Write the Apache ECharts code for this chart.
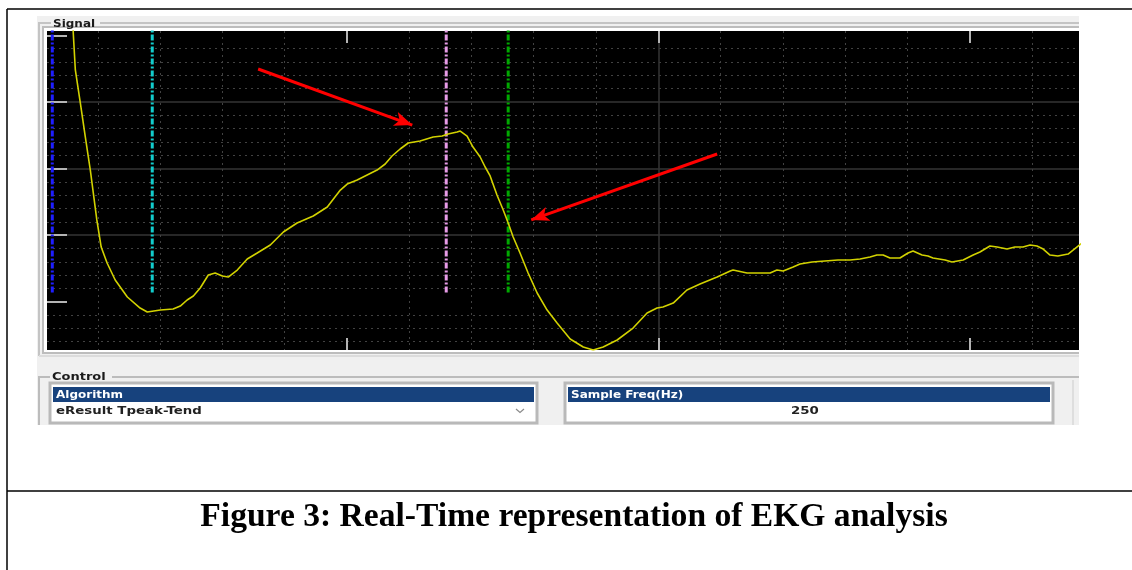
<!DOCTYPE html>
<html>
<head>
<meta charset="utf-8">
<script src="https://cdn.jsdelivr.net/npm/echarts@6/dist/echarts.min.js"></script>
<style>
  html, body { margin: 0; padding: 0; background: #fff; }
  #chart { width: 1132px; height: 570px; }
</style>
</head>
<body>
<div id="chart"></div>
<script>
// Signal trace: time (axis units, 100 per major division) and amplitude (100 per major division)
const sampleTime = [
  11.8, 12.1, 12.8, 14.4, 16.0, 17.6, 19.7, 21.1, 23.0, 25.6, 29.5, 33.6, 35.9, 40.1, 44.2, 46.5,
  48.7, 50.7, 52.9, 55.5, 57.7, 60.0, 61.9, 64.8, 68.0, 71.2, 75.4, 79.6, 84.0, 89.2, 93.7, 97.9,
  100.1, 103.3, 106.5, 109.7, 112.3, 114.5, 117.1, 119.7, 123.5, 127.7, 130.6, 132.5, 135.4, 136.4,
  138.6, 140.5, 142.8, 144.4, 146.0, 148.2, 150.2, 151.8, 153.4, 155.6, 158.2, 161.1, 164.3, 167.5,
  171.7, 175.9, 179.1, 182.3, 186.8, 191.9, 196.4, 199.6, 201.5, 204.8, 209.2, 213.4, 218.9, 223.1,
  224.0, 228.5, 233.6, 235.9, 238.1, 240.1, 243.3, 245.5, 249.4, 253.5, 257.7, 261.6, 264.8, 268.0,
  270.2, 272.2, 274.4, 277.6, 280.2, 281.8, 284.7, 286.6, 288.2, 292.1, 294.3, 297.9, 301.1, 303.3,
  306.5, 308.8, 312.0, 314.5, 317.1, 319.4, 321.6, 323.6, 325.8, 328.3, 331.6, 333.2, 334.8, 336.1
];
const signalValue = [
  430.5, 406.5, 348.0, 298.5, 247.4, 197.9, 122.8, 82.1, 58.1, 32.6, 7.1, -9.5, -15.5, -12.5, -11.0, -6.5,
  2.6, 8.6, 20.6, 40.1, 43.1, 38.6, 37.1, 47.6, 64.1, 73.1, 85.1, 104.7, 118.2, 128.7, 142.2, 167.7,
  176.7, 182.7, 190.2, 197.7, 206.8, 218.8, 229.3, 238.3, 241.3, 247.3, 248.8, 251.8, 254.8, 256.3,
  248.8, 232.3, 217.3, 202.3, 188.8, 160.2, 137.7, 118.2, 97.1, 73.1, 43.1, 13.1, -12.5, -32.0,
  -56.0, -68.0, -72.5, -68.0, -57.5, -39.5, -17.0, -9.5, -8.0, -2.0, 17.6, 26.6, 37.1, 46.1,
  47.6, 43.1, 43.1, 43.1, 47.6, 46.1, 52.1, 56.6, 59.6, 61.1, 62.6, 62.6, 64.1, 67.1,
  70.1, 70.1, 65.6, 65.6, 73.1, 76.1, 70.1, 68.6, 65.6, 62.6, 59.6, 62.6, 70.1, 74.6,
  83.6, 82.1, 79.1, 82.1, 82.1, 85.1, 83.6, 79.1, 70.1, 68.6, 71.6, 77.6, 83.6, 88.1
];

// Cursor markers (time positions) and their vertical span
const markerTime = [5.4, 37.5, 131.9, 151.8];
const markerSpan = [13.8, 410];

// Annotation arrows: start and end points in data coordinates
const arrowStart = [[71.5, 349.4], [218.9, 221.8]];
const arrowEnd = [[121.0, 265.3], [159.2, 122.8]];

// Axis ranges and major tick values
const timeRange = [3.7, 335.1];
const ampRange = [-72.5, 406.5];
const timeTicks = [100, 200, 300];
const ampTicks = [0, 100, 200, 300, 400];

// Control panel texts
const panelTitle = 'Signal';
const controlTitle = 'Control';
const algorithmLabel = 'Algorithm';
const algorithmValue = 'eResult Tpeak-Tend';
const freqLabel = 'Sample Freq(Hz)';
const freqValue = '250';
const caption = 'Figure 3: Real-Time representation of EKG analysis';

const markerColors = ['#1e1eff', '#12cccc', '#e79be7', '#00a800'];

const chart = echarts.init(document.getElementById('chart'), null, { renderer: 'canvas' });

const gridLine = { color: '#343434', width: 1.5 };
const dotLine = { color: '#424242', width: 1, type: [2, 4] };
const tickStyle = { color: '#b4b4b4', width: 2 };

function timeAxis(position, withGrid) {
  return {
    type: 'value', position: position,
    min: timeRange[0], max: timeRange[1],
    minInterval: 100, maxInterval: 100, splitNumber: 3,
    axisLine: { show: false, onZero: false },
    axisLabel: { show: false },
    axisTick: { show: true, inside: true, length: 12, customValues: timeTicks, lineStyle: tickStyle },
    splitLine: { show: withGrid, showMinLine: false, showMaxLine: false, lineStyle: gridLine },
    minorTick: { show: false, splitNumber: 5 },
    minorSplitLine: { show: withGrid, lineStyle: dotLine }
  };
}

const markerSeries = markerTime.map((t, i) => ({
  type: 'line',
  data: [[t, markerSpan[0]], [t, markerSpan[1]]],
  symbol: 'none',
  silent: true,
  z: 2,
  lineStyle: { color: markerColors[i], width: 3, type: [6, 2, 2, 2] }
}));

const white = '#ffffff';
const panelGray = '#f0f0f0';
const frameGray = '#b9b9b9';
const headerBlue = '#17427d';
const uiFont = 'DejaVu Sans';

function uiText(x, y, text, opts) {
  return Object.assign({
    type: 'text', x: x, y: y, z: 10,
    style: Object.assign({
      text: text, fill: '#1a1a1a',
      font: 'bold 10px "' + uiFont + '"',
      textVerticalAlign: 'middle'
    }, opts.style || {})
  }, opts.el || {});
}

function field(x, y, w, header, value, valueAlign) {
  const els = [
    { type: 'rect', z: 5, shape: { x: x, y: y, width: w, height: 40 }, style: { fill: white, stroke: frameGray, lineWidth: 3 } },
    { type: 'rect', z: 6, shape: { x: x + 3, y: y + 4, width: w - 6, height: 15 }, style: { fill: headerBlue } },
    uiText(x + 6, y + 12, header, { style: { fill: '#ffffff' }, el: { scaleX: 1.2 } })
  ];
  const valueFont = 'bold 10.5px "' + uiFont + '"';
  if (valueAlign === 'center') {
    els.push(uiText(x + w / 2 - 18, y + 28, value, { style: { font: valueFont, fill: '#222' }, el: { scaleX: 1.27 } }));
  } else {
    els.push(uiText(x + 6, y + 28, value, { style: { font: valueFont, fill: '#222' }, el: { scaleX: 1.27 } }));
  }
  return els;
}

const chrome = [
  // application window background
  { type: 'rect', z: -5, shape: { x: 37, y: 16, width: 1042, height: 409 }, style: { fill: panelGray } },
  // signal group frame
  { type: 'line', z: -4, shape: { x1: 38, y1: 23, x2: 51, y2: 23 }, style: { stroke: '#c4c4c4', lineWidth: 2 } },
  { type: 'line', z: -4, shape: { x1: 100, y1: 23, x2: 1079, y2: 23 }, style: { stroke: '#c4c4c4', lineWidth: 2 } },
  { type: 'line', z: -4, shape: { x1: 39, y1: 23, x2: 39, y2: 356 }, style: { stroke: '#c4c4c4', lineWidth: 2 } },
  { type: 'line', z: -4, shape: { x1: 39, y1: 356, x2: 1079, y2: 356 }, style: { stroke: '#dcdcdc', lineWidth: 2 } },
  // plot bevel
  { type: 'rect', z: -3, shape: { x: 43, y: 27, width: 1036, height: 326 }, style: { fill: '#ffffff' } },
  { type: 'polyline', z: -2, shape: { points: [[1079, 27], [43, 27], [43, 353], [1079, 353]] }, style: { stroke: '#bdbdbd', lineWidth: 2, fill: null } },
  uiText(53, 24, panelTitle, { el: { scaleX: 1.2 } }),
  // control group frame
  { type: 'line', z: -4, shape: { x1: 38, y1: 377, x2: 50, y2: 377 }, style: { stroke: '#bcbcbc', lineWidth: 2 } },
  { type: 'line', z: -4, shape: { x1: 112, y1: 377, x2: 1079, y2: 377 }, style: { stroke: '#bcbcbc', lineWidth: 2 } },
  { type: 'line', z: -4, shape: { x1: 39, y1: 377, x2: 39, y2: 425 }, style: { stroke: '#bcbcbc', lineWidth: 2 } },
  { type: 'line', z: -4, shape: { x1: 1073, y1: 380, x2: 1073, y2: 425 }, style: { stroke: '#d8d8d8', lineWidth: 1.5 } },
  uiText(52, 377, controlTitle, { el: { scaleX: 1.3 } }),
  ...field(50, 383, 487, algorithmLabel, algorithmValue, 'left'),
  ...field(565, 383, 488, freqLabel, freqValue, 'center'),
  { type: 'polyline', z: 10, shape: { points: [[516, 409], [520, 412.5], [524, 409]] }, style: { stroke: '#8a8a8a', lineWidth: 1.2, fill: null } },
  // page rules
  { type: 'line', z: 20, shape: { x1: 7, y1: 9, x2: 1132, y2: 9 }, style: { stroke: '#000', lineWidth: 1.5 } },
  { type: 'line', z: 20, shape: { x1: 7, y1: 9, x2: 7, y2: 570 }, style: { stroke: '#000', lineWidth: 1.5 } },
  { type: 'line', z: 20, shape: { x1: 7, y1: 491, x2: 1132, y2: 491 }, style: { stroke: '#000', lineWidth: 1.5 } },
  // caption
  { type: 'text', z: 20, x: 574, y: 534, style: { text: caption, fill: '#000', font: 'bold 33.6px "Liberation Serif"', textAlign: 'center', textVerticalAlign: 'bottom' } }
];

chart.setOption({
  animation: false,
  backgroundColor: '#ffffff',
  grid: { left: 47, top: 31, right: 53, bottom: 220, show: true, backgroundColor: '#000000', borderWidth: 0, containLabel: false },
  xAxis: [timeAxis('bottom', true), timeAxis('top', false)],
  yAxis: {
    type: 'value',
    min: ampRange[0], max: ampRange[1],
    minInterval: 100, maxInterval: 100, splitNumber: 5,
    axisLine: { show: false, onZero: false },
    axisLabel: { show: false },
    axisTick: { show: true, inside: true, length: 20, customValues: ampTicks, lineStyle: tickStyle },
    splitLine: { show: true, showMinLine: false, showMaxLine: false, lineStyle: gridLine },
    minorTick: { show: false, splitNumber: 5 },
    minorSplitLine: { show: true, lineStyle: dotLine }
  },
  graphic: { elements: chrome },
  series: [
    ...markerSeries,
    {
      type: 'line',
      data: sampleTime.map((t, i) => [t, signalValue[i]]),
      symbol: 'none',
      silent: true,
      z: 3,
      lineStyle: { color: '#d2d200', width: 1.6 },
      markLine: {
        silent: true,
        symbol: ['none', 'arrow'],
        symbolSize: [11, 18],
        label: { show: false },
        lineStyle: { color: '#ff0000', width: 3, type: 'solid' },
        data: arrowStart.map((s, i) => [{ coord: s }, { coord: arrowEnd[i] }])
      }
    }
  ]
});
</script>
</body>
</html>
